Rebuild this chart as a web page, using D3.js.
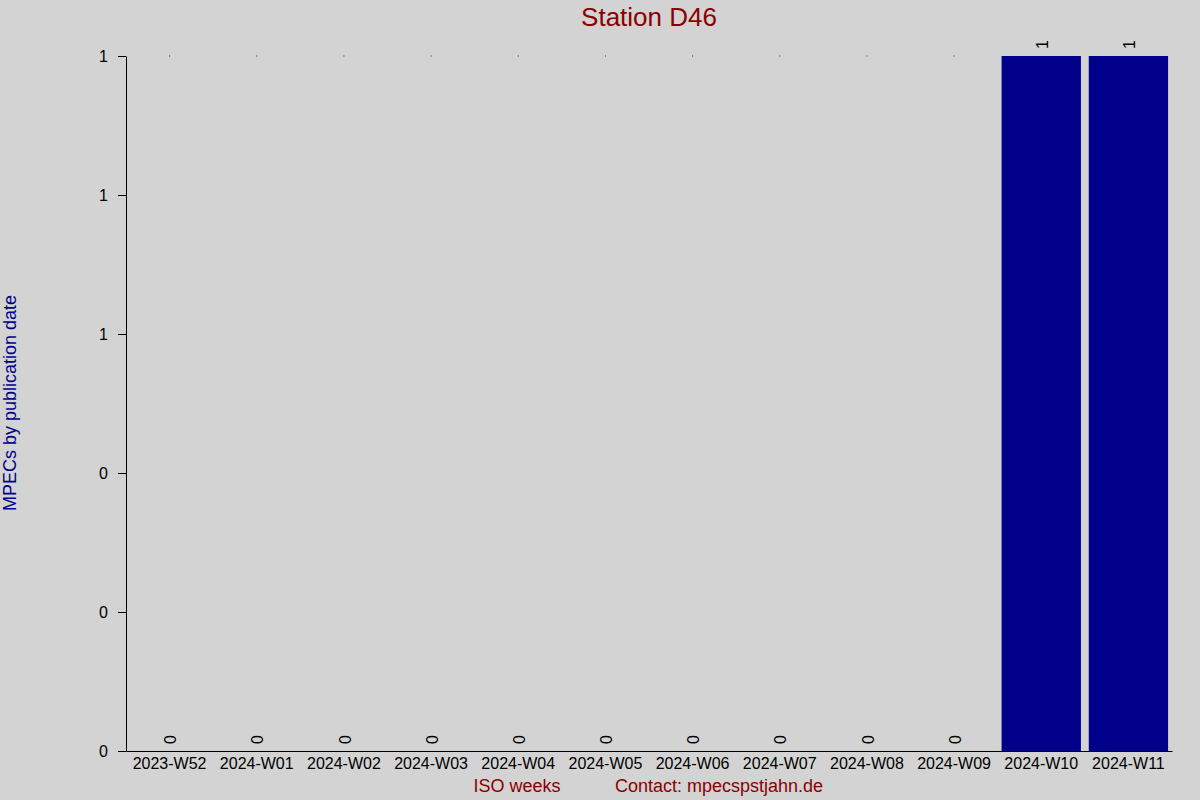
<!DOCTYPE html>
<html>
<head>
<meta charset="utf-8">
<script src="https://cdn.jsdelivr.net/npm/d3@7"></script>
<style>
  body { margin: 0; background: #d3d3d3; }
  svg { display: block; font-family: "Liberation Sans", Arial, sans-serif; }
</style>
</head>
<body>
<div id="chart"></div>
<script>
// Weekly MPEC counts for station D46
const weeks = ["2023-W52", "2024-W01", "2024-W02", "2024-W03", "2024-W04", "2024-W05",
               "2024-W06", "2024-W07", "2024-W08", "2024-W09", "2024-W10", "2024-W11"];
const counts = [0, 0, 0, 0, 0, 0, 0, 0, 0, 0, 1, 1];
const yTicks = [0, 0.2, 0.4, 0.6, 0.8, 1];

const width = 1200;
const height = 800;
const margin = { top: 56, right: 28, bottom: 49, left: 126 };

const svg = d3.select("#chart")
    .append("svg")
    .attr("width", width)
    .attr("height", height);

svg.append("rect")
    .attr("width", width)
    .attr("height", height)
    .attr("fill", "#d3d3d3");

const x = d3.scaleBand()
    .domain(weeks)
    .range([margin.left, width - margin.right])
    .paddingInner(0.09)
    .paddingOuter(0.045);

const y = d3.scaleLinear()
    .domain([0, 1])
    .range([height - margin.bottom, margin.top]);

const data = weeks.map((w, i) => ({ week: w, count: counts[i] }));

// bars
svg.selectAll(".bar")
    .data(data)
    .enter()
    .append("rect")
    .attr("class", "bar")
    .attr("x", d => x(d.week))
    .attr("y", d => y(d.count))
    .attr("width", x.bandwidth())
    .attr("height", d => y(0) - y(d.count))
    .attr("fill", "#00008b");

// small dots at the top for empty weeks
svg.selectAll(".dot")
    .data(data.filter(d => d.count === 0))
    .enter()
    .append("rect")
    .attr("x", d => x(d.week) + x.bandwidth() / 2 - 0.5)
    .attr("y", y(1) - 0.5)
    .attr("width", 1)
    .attr("height", 1)
    .attr("fill", "#222");

// value labels, rotated
svg.selectAll(".value")
    .data(data)
    .enter()
    .append("text")
    .attr("class", "value")
    .attr("transform", d => `translate(${x(d.week) + x.bandwidth() / 2 + 1},${y(d.count) - 7}) rotate(-90)`)
    .attr("dy", "0.35em")
    .style("font-size", "16px")
    .style("fill", "#000")
    .text(d => d.count);

// y axis
const yAxis = svg.append("g")
    .attr("transform", `translate(${margin.left},0)`)
    .call(d3.axisLeft(y).tickValues(yTicks).tickFormat(d3.format(".0f")).tickSize(8).tickSizeOuter(0).tickPadding(10));
yAxis.selectAll("text").style("font-size", "16px").style("fill", "#000").style("font-family", "inherit");
yAxis.selectAll("line, path").attr("stroke", "#000");

// x axis
const xAxis = svg.append("g")
    .attr("transform", `translate(0,${y(0)})`)
    .call(d3.axisBottom(x).tickSize(0).tickPadding(7));
xAxis.selectAll("text").style("font-size", "16px").style("fill", "#000").style("font-family", "inherit");
xAxis.selectAll("path").attr("stroke", "#000");

// title
svg.append("text")
    .attr("x", 649)
    .attr("y", 26)
    .attr("text-anchor", "middle")
    .style("font-size", "26px")
    .style("fill", "#8b0000")
    .text("Station D46");

// y label
svg.append("text")
    .attr("transform", "translate(16,403) rotate(-90)")
    .attr("text-anchor", "middle")
    .style("font-size", "18px")
    .style("fill", "#00008b")
    .text("MPECs by publication date");

// x labels
svg.append("text")
    .attr("x", 517)
    .attr("y", 792)
    .attr("text-anchor", "middle")
    .style("font-size", "18px")
    .style("fill", "#8b0000")
    .text("ISO weeks");

svg.append("text")
    .attr("x", 719)
    .attr("y", 792)
    .attr("text-anchor", "middle")
    .style("font-size", "18px")
    .style("fill", "#8b0000")
    .text("Contact: mpecspstjahn.de");
</script>
</body>
</html>
